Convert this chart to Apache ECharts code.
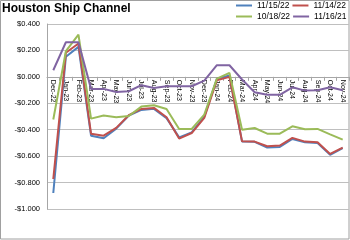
<!DOCTYPE html>
<html><head><meta charset="utf-8">
<script src="https://cdn.jsdelivr.net/npm/echarts@6/dist/echarts.min.js"></script>
<style>html,body{margin:0;padding:0;background:#fff}#c{width:350px;height:240px}</style>
</head><body><div id="c"></div>
<script>
var categories = ['Dec-22','Jan-23','Feb-23','Mar-23','Apr-23','May-23','Jun-23','Jul-23','Aug-23','Sep-23','Oct-23','Nov-23','Dec-23','Jan-24','Feb-24','Mar-24','Apr-24','May-24','Jun-24','Jul-24','Aug-24','Sep-24','Oct-24','Nov-24'];
var seriesNames = ['11/15/22','11/14/22','10/18/22','11/16/21'];
var s111522 = [-0.879,0.152,0.227,-0.445,-0.465,-0.392,-0.293,-0.250,-0.242,-0.312,-0.458,-0.420,-0.300,-0.015,0.010,-0.490,-0.492,-0.535,-0.530,-0.470,-0.495,-0.500,-0.590,-0.540];
var s111422 = [-0.773,0.182,0.252,-0.430,-0.445,-0.386,-0.290,-0.243,-0.235,-0.306,-0.467,-0.425,-0.310,-0.025,0.000,-0.488,-0.490,-0.525,-0.520,-0.462,-0.490,-0.495,-0.583,-0.536];
var s101822 = [-0.323,0.194,0.320,-0.316,-0.293,-0.306,-0.296,-0.225,-0.215,-0.243,-0.394,-0.394,-0.286,-0.013,0.030,-0.400,-0.387,-0.430,-0.430,-0.374,-0.397,-0.394,-0.435,-0.475];
var s111621 = [0.050,0.262,0.262,-0.091,-0.091,-0.114,-0.109,-0.063,-0.084,-0.071,-0.071,-0.071,-0.028,0.088,0.088,-0.020,-0.116,-0.136,-0.136,-0.079,-0.104,-0.101,-0.079,-0.101];
var seriesData = [s111522, s111422, s101822, s111621];
var colors = ['#4F81BD','#C0504D','#9BBB59','#8064A2'];
var yTicks = {min:-1.0, max:0.4, interval:0.2};

var FONT = '"Liberation Sans", Arial, sans-serif';
var gridTop = 24, gridBottomY = 209;
var zeroY = gridTop + (yTicks.max - 0) / (yTicks.max - yTicks.min) * (gridBottomY - gridTop);
var chart = echarts.init(document.getElementById('c'), null, {renderer:'canvas'});
function fmt(v){ var a = Math.abs(v); if (a < 1e-9) return '$0.000'; return (v<0?'-':'') + '$' + a.toFixed(3); }
var legendCommon = {
  orient:'horizontal', icon:'rect', itemWidth:16, itemHeight:2, itemGap:3, left:236, width:125, padding:0,
  textStyle:{fontSize:8.5, fontFamily:FONT, color:'#000'}
};
chart.setOption({
  animation:false,
  color: colors,
  title:{text:'Houston Ship Channel', left:2, top:3, padding:[0,0,0,0], textStyle:{fontSize:12, fontWeight:'bold', fontFamily:FONT, color:'#000'}},
  graphic:[{type:'rect', shape:{x:0.5,y:0.5,width:348.5,height:238.5}, style:{fill:null, stroke:'#a0a0a0', lineWidth:1}, silent:true}],
  legend:[
    Object.assign({top:1, data:[seriesNames[0], seriesNames[1]]}, legendCommon),
    Object.assign({top:12, data:[seriesNames[2], seriesNames[3]]}, legendCommon)
  ],
  grid:{left:47, right:1, top:gridTop, bottom:240-gridBottomY, containLabel:false},
  xAxis:{
    type:'category', data:categories, boundaryGap:true, position:'bottom',
    offset: -(gridBottomY - zeroY),
    axisLine:{onZero:false, lineStyle:{color:'#a6a6a6', width:1}},
    axisTick:{show:true, length:4, lineStyle:{color:'#a6a6a6'}},
    axisLabel:{rotate:-90, fontSize:7, fontFamily:FONT, color:'#000', margin:3, interval:0},
    splitLine:{show:false}
  },
  yAxis:{
    type:'value', min:yTicks.min, max:yTicks.max, interval:yTicks.interval,
    axisLine:{show:true, lineStyle:{color:'#a6a6a6'}},
    axisTick:{show:false},
    axisLabel:{formatter:fmt, fontSize:7.5, fontFamily:FONT, color:'#000', margin:7},
    splitLine:{lineStyle:{color:'#bfbfbf', width:1}}
  },
  series: seriesNames.map(function(n,i){
    return {name:n, type:'line', data:seriesData[i], showSymbol:false, symbol:'none',
      lineStyle:{width:2, color:colors[i]}, itemStyle:{color:colors[i]}};
  })
});
</script></body></html>
